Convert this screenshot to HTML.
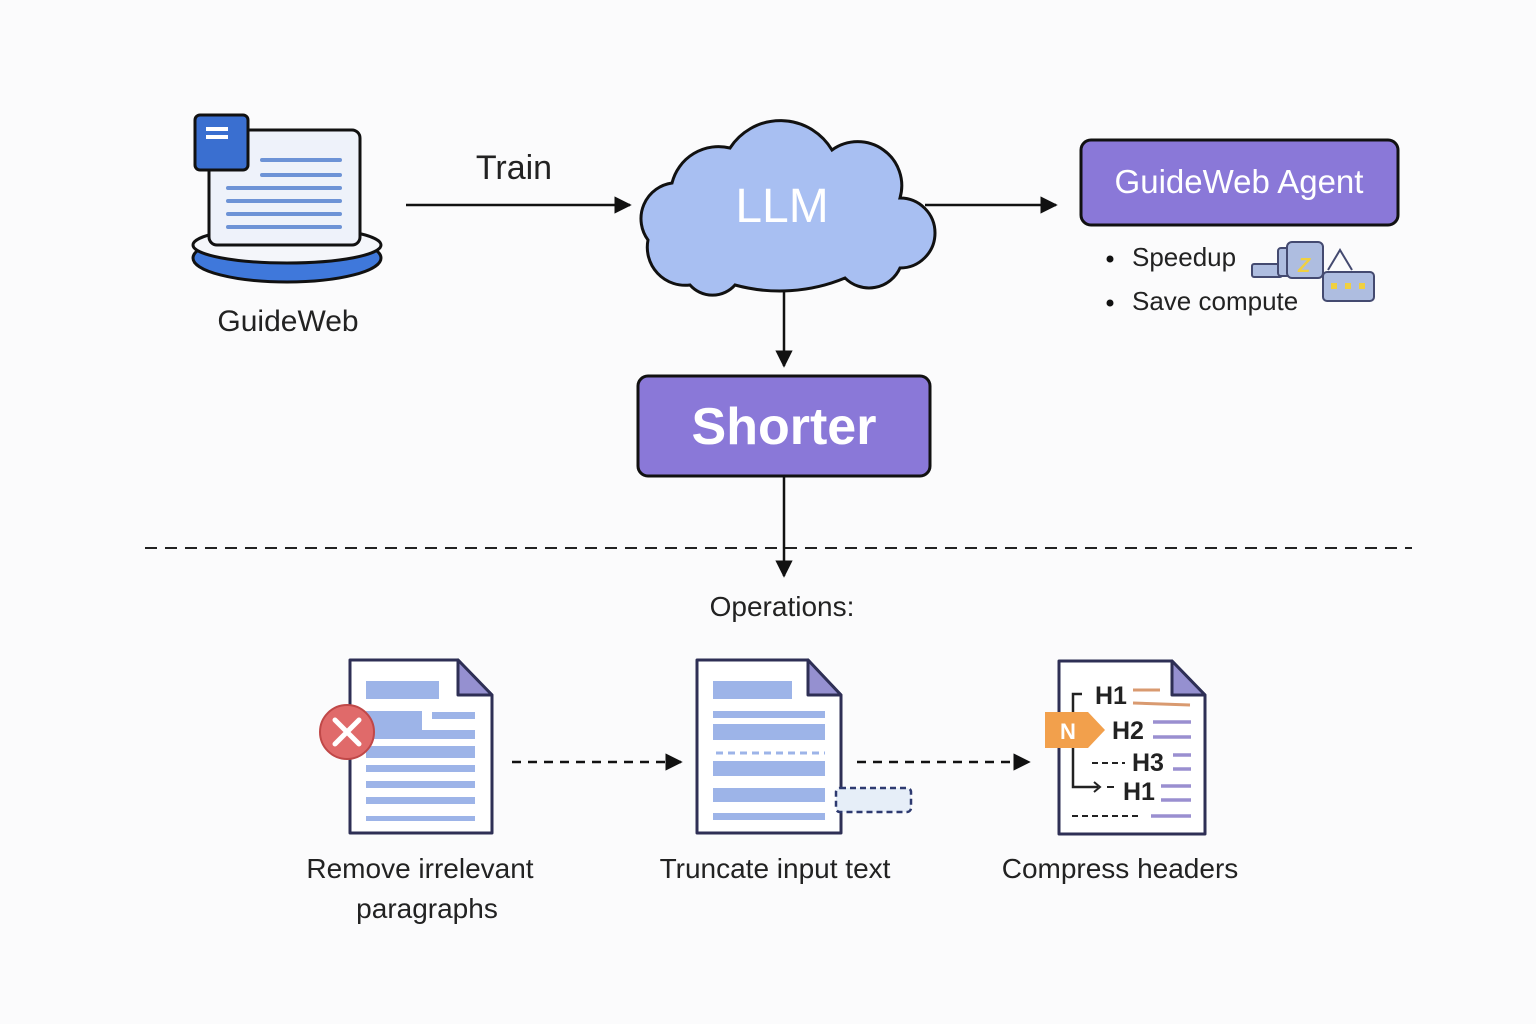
<!DOCTYPE html>
<html><head><meta charset="utf-8"><style>
body{margin:0;background:#fbfbfc;}
svg{display:block;font-family:"Liberation Sans","DejaVu Sans",sans-serif;}
</style></head><body>
<svg width="1536" height="1024" viewBox="0 0 1536 1024" xmlns="http://www.w3.org/2000/svg">
<defs>
<marker id="ah" viewBox="0 0 10 10" refX="9" refY="5" markerWidth="7" markerHeight="7" orient="auto"><path d="M0,0L10,5L0,10Z" fill="#111"/></marker>
</defs>
<rect width="1536" height="1024" fill="#fbfbfc"/>
<!-- GuideWeb icon -->
<ellipse cx="287" cy="258" rx="94" ry="24" fill="#3f78db" stroke="#111" stroke-width="3"/>
<ellipse cx="287" cy="245" rx="94" ry="18" fill="#f4f6fa" stroke="#111" stroke-width="3"/>
<rect x="209" y="130" width="151" height="115" rx="8" fill="#eef2fa" stroke="#111" stroke-width="3"/>
<g stroke="#6d93d6" stroke-width="4" stroke-linecap="round">
<line x1="262" y1="160" x2="340" y2="160"/><line x1="262" y1="175" x2="340" y2="175"/>
<line x1="228" y1="188" x2="340" y2="188"/><line x1="228" y1="201" x2="340" y2="201"/>
<line x1="228" y1="214" x2="340" y2="214"/><line x1="228" y1="227" x2="340" y2="227"/>
</g>
<rect x="195" y="115" width="53" height="55" rx="5" fill="#3a6fd0" stroke="#111" stroke-width="3"/>
<rect x="206" y="127" width="22" height="4" fill="#fff"/><rect x="206" y="135" width="22" height="4" fill="#fff"/>
<text x="288" y="331" font-size="30" text-anchor="middle" fill="#222">GuideWeb</text>
<!-- Train arrow -->
<text x="514" y="179" font-size="34" text-anchor="middle" fill="#222">Train</text>
<line x1="406" y1="205" x2="630" y2="205" stroke="#111" stroke-width="2.5" marker-end="url(#ah)"/>
<!-- Cloud -->
<path d="M690,285 A38,38 0 0 1 648,240 A36,36 0 0 1 672,183 A48,48 0 0 1 730,148 A60,60 0 0 1 832,150 A44,44 0 0 1 900,198 A34,34 0 0 1 900,268 A34,34 0 0 1 845,278 A170,170 0 0 1 735,285 A30,30 0 0 1 690,285 Z" fill="#a8bff2" stroke="#111" stroke-width="3"/>
<text x="782" y="222" font-size="48" text-anchor="middle" fill="#fff">LLM</text>
<line x1="925" y1="205" x2="1056" y2="205" stroke="#111" stroke-width="2.5" marker-end="url(#ah)"/>
<!-- Agent -->
<rect x="1081" y="140" width="317" height="85" rx="10" fill="#8a78d8" stroke="#111" stroke-width="3"/>
<text x="1239" y="193" font-size="33" text-anchor="middle" fill="#fff">GuideWeb Agent</text>
<circle cx="1110" cy="259" r="3.5" fill="#111"/><text x="1132" y="266" font-size="26" fill="#222">Speedup</text>
<circle cx="1110" cy="303" r="3.5" fill="#111"/><text x="1132" y="310" font-size="26" fill="#222">Save compute</text>
<!-- small machine icon -->
<rect x="1252" y="264" width="30" height="13" rx="2" fill="#aebde0" stroke="#444a70" stroke-width="2"/>
<rect x="1278" y="248" width="14" height="28" rx="3" fill="#aebde0" stroke="#444a70" stroke-width="2"/>
<rect x="1287" y="242" width="36" height="36" rx="5" fill="#aebde0" stroke="#444a70" stroke-width="2"/>
<text x="1298" y="272" font-size="20" font-style="italic" fill="#f0d040" font-weight="bold">Z</text>
<path d="M1328,270 L1340,250 L1352,270" fill="none" stroke="#444a70" stroke-width="2"/>
<rect x="1323" y="272" width="51" height="29" rx="4" fill="#aebde0" stroke="#444a70" stroke-width="2"/>
<rect x="1331" y="283" width="6" height="6" fill="#f0d040"/><rect x="1345" y="283" width="6" height="6" fill="#f0d040"/><rect x="1359" y="283" width="6" height="6" fill="#f0d040"/>
<!-- Shorter -->
<line x1="784" y1="292" x2="784" y2="366" stroke="#111" stroke-width="2.5" marker-end="url(#ah)"/>
<rect x="638" y="376" width="292" height="100" rx="10" fill="#8a78d8" stroke="#111" stroke-width="3"/>
<text x="784" y="444" font-size="52" font-weight="bold" text-anchor="middle" fill="#fff">Shorter</text>
<line x1="784" y1="477" x2="784" y2="576" stroke="#111" stroke-width="2.5" marker-end="url(#ah)"/>
<line x1="145" y1="548" x2="1412" y2="548" stroke="#222" stroke-width="2" stroke-dasharray="12,8"/>
<text x="782" y="616" font-size="28" text-anchor="middle" fill="#222">Operations:</text>
<!-- Doc 1 -->
<path d="M350,660 L458,660 L492,695 L492,833 L350,833 Z" fill="#fff" stroke="#2e2f55" stroke-width="3" stroke-linejoin="round"/>
<path d="M458,660 L458,695 L492,695 Z" fill="#9590d0" stroke="#2e2f55" stroke-width="3" stroke-linejoin="round"/>
<g fill="#9db4e8">
<rect x="366" y="681" width="73" height="18"/><rect x="366" y="711" width="56" height="28"/><rect x="432" y="712" width="43" height="7"/>
<rect x="366" y="730" width="109" height="9"/><rect x="366" y="746" width="109" height="12"/>
<rect x="366" y="765" width="109" height="7"/><rect x="366" y="781" width="109" height="7"/><rect x="366" y="797" width="109" height="7"/><rect x="366" y="816" width="109" height="5"/>
</g>
<circle cx="347" cy="732" r="27" fill="#e06a6a" stroke="#c04848" stroke-width="2"/>
<path d="M335,720 L359,744 M359,720 L335,744" stroke="#fff" stroke-width="5" stroke-linecap="round"/>
<text x="420" y="878" font-size="28" text-anchor="middle" fill="#222">Remove irrelevant</text>
<text x="427" y="918" font-size="28" text-anchor="middle" fill="#222">paragraphs</text>
<line x1="512" y1="762" x2="681" y2="762" stroke="#111" stroke-width="2.5" stroke-dasharray="9,7" marker-end="url(#ah)"/>
<!-- Doc 2 -->
<path d="M697,660 L808,660 L841,695 L841,833 L697,833 Z" fill="#fff" stroke="#2e2f55" stroke-width="3" stroke-linejoin="round"/>
<path d="M808,660 L808,695 L841,695 Z" fill="#9590d0" stroke="#2e2f55" stroke-width="3" stroke-linejoin="round"/>
<g fill="#9db4e8">
<rect x="713" y="681" width="79" height="18"/><rect x="713" y="711" width="112" height="7"/><rect x="713" y="724" width="112" height="16"/>
<rect x="713" y="761" width="112" height="15"/><rect x="713" y="788" width="112" height="14"/><rect x="713" y="813" width="112" height="7"/>
</g>
<line x1="716" y1="753" x2="825" y2="753" stroke="#9db4e8" stroke-width="3" stroke-dasharray="7,5"/>
<rect x="836" y="788" width="75" height="24" rx="4" fill="#e6eef8" stroke="#2e3a70" stroke-width="2.5" stroke-dasharray="6,4"/>
<text x="775" y="878" font-size="28" text-anchor="middle" fill="#222">Truncate input text</text>
<line x1="857" y1="762" x2="1029" y2="762" stroke="#111" stroke-width="2.5" stroke-dasharray="9,7" marker-end="url(#ah)"/>
<!-- Doc 3 -->
<path d="M1059,661 L1172,661 L1205,695 L1205,834 L1059,834 Z" fill="#fff" stroke="#2e2f55" stroke-width="3" stroke-linejoin="round"/>
<path d="M1172,661 L1172,695 L1205,695 Z" fill="#9590d0" stroke="#2e2f55" stroke-width="3" stroke-linejoin="round"/>
<path d="M1082,694 L1073,694 L1073,787 L1098,787" fill="none" stroke="#222" stroke-width="2.5"/>
<path d="M1094,782 L1100,787 L1094,792" fill="none" stroke="#222" stroke-width="2"/>
<g font-weight="bold" font-size="25" fill="#222">
<text x="1095" y="704">H1</text><text x="1112" y="739">H2</text><text x="1132" y="771">H3</text><text x="1123" y="800">H1</text>
</g>
<g stroke="#d99a70" stroke-width="3"><line x1="1133" y1="690" x2="1160" y2="690"/><line x1="1133" y1="703" x2="1190" y2="705"/></g>
<g stroke="#9a8fd0" stroke-width="3.5">
<line x1="1153" y1="722" x2="1191" y2="722"/><line x1="1153" y1="737" x2="1191" y2="737"/>
<line x1="1173" y1="755" x2="1191" y2="755"/><line x1="1173" y1="769" x2="1191" y2="769"/>
<line x1="1161" y1="786" x2="1191" y2="786"/><line x1="1161" y1="800" x2="1191" y2="800"/>
<line x1="1151" y1="816" x2="1191" y2="816"/>
</g>
<line x1="1092" y1="763" x2="1125" y2="763" stroke="#222" stroke-width="2" stroke-dasharray="6,4"/>
<line x1="1107" y1="787" x2="1114" y2="787" stroke="#222" stroke-width="2"/>
<line x1="1072" y1="816" x2="1140" y2="816" stroke="#222" stroke-width="2" stroke-dasharray="6,4"/>
<path d="M1045,712 L1088,712 L1105,730 L1088,748 L1045,748 Z" fill="#f2a04c"/>
<text x="1068" y="739" font-size="22" font-weight="bold" text-anchor="middle" fill="#fff">N</text>
<text x="1120" y="878" font-size="28" text-anchor="middle" fill="#222">Compress headers</text>
</svg>
</body></html>
